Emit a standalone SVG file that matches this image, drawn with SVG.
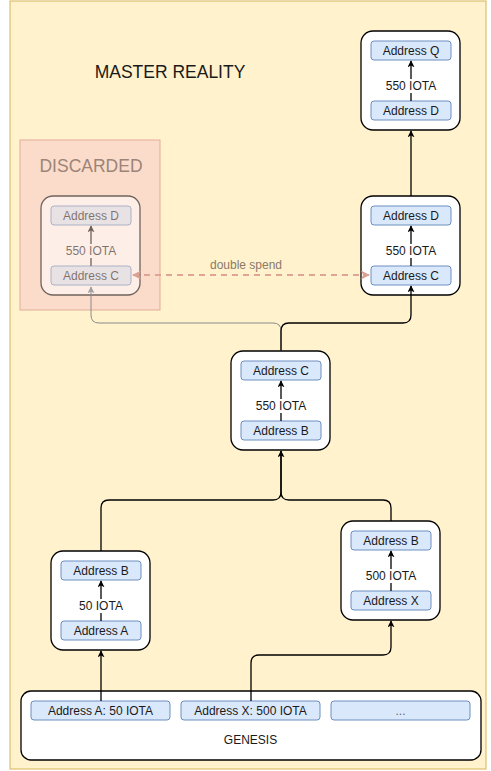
<svg xmlns="http://www.w3.org/2000/svg" width="491" height="771" viewBox="0 0 491 771">
<defs>
<style>
text{font-family:"Liberation Sans",Arial,sans-serif;font-size:12px;fill:#1a1a1a;text-anchor:middle;dominant-baseline:central}
.node{fill:#ffffff;stroke:#000000;stroke-width:1.3}
.addr{fill:#dae8fc;stroke:#6c8ebf;stroke-width:1}
.edge{fill:none;stroke:#000000;stroke-width:1.3}
.lbl{fill:#ffffff}
</style>
<marker id="arr" viewBox="0 0 10 10" refX="9" refY="5" markerWidth="7" markerHeight="7" markerUnits="userSpaceOnUse" orient="auto">
<path d="M0,0 L10,5 L0,10 L2.5,5 Z" fill="#000000"/>
</marker>
<marker id="arrg" viewBox="0 0 10 10" refX="9" refY="5" markerWidth="7" markerHeight="7" markerUnits="userSpaceOnUse" orient="auto">
<path d="M0,0 L10,5 L0,10 L2.5,5 Z" fill="#a0a0a0"/>
</marker>
<marker id="arrp" viewBox="0 0 10 10" refX="9" refY="5" markerWidth="9" markerHeight="9" markerUnits="userSpaceOnUse" orient="auto-start-reverse">
<path d="M0,0 L10,5 L0,10 L2.5,5 Z" fill="#dba093"/>
</marker>
</defs>

<g id="master-reality">
<rect x="10" y="1" width="476" height="768" fill="#fff2cc" stroke="#d6b656" stroke-width="1"/>
<text x="170" y="72" style="font-size:17.5px">MASTER REALITY</text>
</g>

<g id="discarded">
<rect x="20" y="140" width="140" height="170" fill="#fbdccb" stroke="#e3ab97" stroke-width="1"/>
<text x="91" y="166" style="font-size:17.5px;fill:#9c8478">DISCARDED</text>
<g id="node-discarded-cd" opacity="0.55">
<rect class="node" x="41" y="196" width="99" height="99" rx="12" ry="12" stroke-width="1.5"/>
<rect class="addr" x="51" y="206" width="80" height="19" rx="3" fill="#e4ecf7" stroke="#a8b8d0"/>
<rect class="addr" x="51" y="266" width="80" height="19" rx="3" fill="#e4ecf7" stroke="#a8b8d0"/>
<line x1="91" y1="266" x2="91" y2="226" stroke="#000" stroke-width="1.3" marker-end="url(#arr)"/>
<rect class="lbl" x="62" y="244" width="58" height="14"/>
<text x="91" y="251">550 IOTA</text>
<text x="91" y="215.5">Address D</text>
<text x="91" y="275.5">Address C</text>
</g>
</g>

<g id="node-top-qd">
<rect class="node" x="361" y="31" width="99" height="99" rx="12" ry="12"/>
<rect class="addr" x="371" y="41" width="80" height="19" rx="3"/>
<rect class="addr" x="371" y="101" width="80" height="19" rx="3"/>
<line class="edge" x1="411" y1="101" x2="411" y2="61" marker-end="url(#arr)"/>
<rect class="lbl" x="382" y="79" width="58" height="14"/>
<text x="411" y="86">550 IOTA</text>
<text x="411" y="50.5">Address Q</text>
<text x="411" y="110.5">Address D</text>
</g>

<g id="node-right-cd">
<rect class="node" x="361" y="196" width="99" height="99" rx="12" ry="12"/>
<rect class="addr" x="371" y="206" width="80" height="19" rx="3"/>
<rect class="addr" x="371" y="266" width="80" height="19" rx="3"/>
<line class="edge" x1="411" y1="266" x2="411" y2="226" marker-end="url(#arr)"/>
<rect class="lbl" x="382" y="244" width="58" height="14"/>
<text x="411" y="251">550 IOTA</text>
<text x="411" y="215.5">Address D</text>
<text x="411" y="275.5">Address C</text>
</g>

<g id="node-middle-bc">
<rect class="node" x="231" y="351" width="99" height="99" rx="12" ry="12"/>
<rect class="addr" x="241" y="361" width="80" height="19" rx="3"/>
<rect class="addr" x="241" y="421" width="80" height="19" rx="3"/>
<line class="edge" x1="281" y1="421" x2="281" y2="381" marker-end="url(#arr)"/>
<rect class="lbl" x="252" y="399" width="58" height="14"/>
<text x="281" y="406">550 IOTA</text>
<text x="281" y="370.5">Address C</text>
<text x="281" y="430.5">Address B</text>
</g>

<g id="node-left-ab">
<rect class="node" x="51" y="551" width="99" height="99" rx="12" ry="12"/>
<rect class="addr" x="61" y="561" width="80" height="19" rx="3"/>
<rect class="addr" x="61" y="621" width="80" height="19" rx="3"/>
<line class="edge" x1="101" y1="621" x2="101" y2="581" marker-end="url(#arr)"/>
<rect class="lbl" x="76" y="599" width="50" height="14"/>
<text x="101" y="606">50 IOTA</text>
<text x="101" y="570.5">Address B</text>
<text x="101" y="630.5">Address A</text>
</g>

<g id="node-right-xb">
<rect class="node" x="341" y="521" width="99" height="99" rx="12" ry="12"/>
<rect class="addr" x="351" y="531" width="80" height="19" rx="3"/>
<rect class="addr" x="351" y="591" width="80" height="19" rx="3"/>
<line class="edge" x1="391" y1="591" x2="391" y2="551" marker-end="url(#arr)"/>
<rect class="lbl" x="362" y="569" width="58" height="14"/>
<text x="391" y="576">500 IOTA</text>
<text x="391" y="540.5">Address B</text>
<text x="391" y="600.5">Address X</text>
</g>

<g id="genesis">
<rect class="node" x="21" y="691" width="460" height="69" rx="10" ry="10"/>
<rect class="addr" x="31" y="701" width="139" height="19" rx="3"/>
<rect class="addr" x="181" y="701" width="139" height="19" rx="3"/>
<rect class="addr" x="331" y="701" width="139" height="19" rx="3"/>
<text x="100.5" y="710.5">Address A: 50 IOTA</text>
<text x="250.5" y="710.5">Address X: 500 IOTA</text>
<text x="400.5" y="710.5" style="fill:#666">...</text>
<text x="250.5" y="739.5">GENESIS</text>
</g>

<g id="connectors">
<path d="M281,351 V331 Q281,323 273,323 H99 Q91,323 91,315 V287" fill="none" stroke="#8a8a8a" stroke-width="1" marker-end="url(#arrg)"/>
<path class="edge" d="M281,351 V331 Q281,323 289,323 H403 Q411,323 411,315 V286" marker-end="url(#arr)"/>
<path class="edge" d="M411,196 V131" marker-end="url(#arr)"/>
<path class="edge" d="M101,551 V508 Q101,500 109,500 H273 Q281,500 281,492 V451" marker-end="url(#arr)"/>
<path class="edge" d="M391,521 V508 Q391,500 383,500 H289 Q281,500 281,492 V451"/>
<path class="edge" d="M101,701 V651" marker-end="url(#arr)"/>
<path class="edge" d="M251,701 V663 Q251,655 259,655 H383 Q391,655 391,647 V621" marker-end="url(#arr)"/>
<path d="M133,275 H369" fill="none" stroke="#e0a497" stroke-width="2" stroke-dasharray="6 5" marker-start="url(#arrp)" marker-end="url(#arrp)"/>
<text x="246" y="265" style="fill:#8a7a6a">double spend</text>
</g>
</svg>
